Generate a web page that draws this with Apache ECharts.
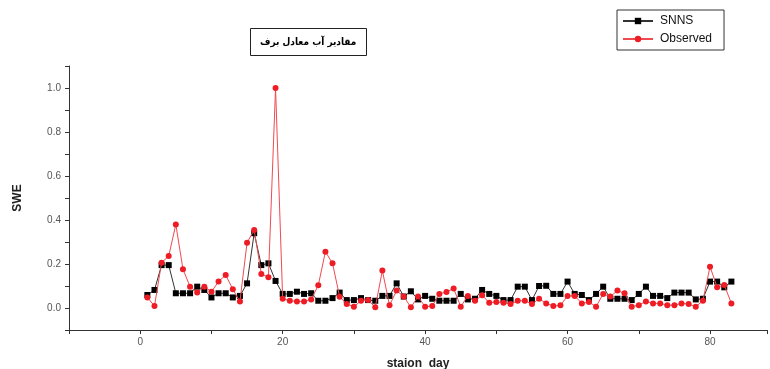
<!DOCTYPE html>
<html>
<head>
<meta charset="utf-8">
<script src="https://cdn.jsdelivr.net/npm/echarts@6/dist/echarts.min.js"></script>
<style>
  html, body { margin: 0; padding: 0; background: #fff; }
  #main { width: 770px; height: 369px; }
</style>
</head>
<body>
<div id="main"></div>
<script>
// station day 1..83
const days = Array.from({length: 83}, (_, i) => i + 1);

const snns = [
  0.059, 0.082, 0.195, 0.195, 0.067, 0.067, 0.067, 0.097, 0.082, 0.048,
  0.067, 0.067, 0.048, 0.055, 0.112, 0.340, 0.195, 0.203, 0.123, 0.064,
  0.064, 0.074, 0.064, 0.067, 0.033, 0.033, 0.045, 0.070, 0.036, 0.036,
  0.045, 0.036, 0.033, 0.055, 0.055, 0.112, 0.052, 0.076, 0.039, 0.055,
  0.042, 0.033, 0.033, 0.033, 0.064, 0.039, 0.042, 0.082, 0.064, 0.055,
  0.036, 0.036, 0.097, 0.097, 0.036, 0.100, 0.101, 0.064, 0.064, 0.120,
  0.064, 0.059, 0.036, 0.064, 0.097, 0.042, 0.042, 0.042, 0.036, 0.064,
  0.097, 0.055, 0.055, 0.045, 0.070, 0.070, 0.070, 0.039, 0.042, 0.120,
  0.120, 0.094, 0.120
];

const observed = [
  0.048, 0.009, 0.206, 0.236, 0.380, 0.176, 0.097, 0.070, 0.097, 0.074,
  0.120, 0.150, 0.085, 0.030, 0.297, 0.355, 0.155, 0.140, 1.000, 0.042,
  0.033, 0.030, 0.030, 0.039, 0.103, 0.256, 0.203, 0.051, 0.018, 0.006,
  0.033, 0.036, 0.003, 0.170, 0.012, 0.079, 0.052, 0.003, 0.052, 0.006,
  0.009, 0.064, 0.073, 0.089, 0.006, 0.055, 0.033, 0.058, 0.024, 0.027,
  0.024, 0.018, 0.033, 0.033, 0.018, 0.042, 0.021, 0.009, 0.012, 0.055,
  0.055, 0.021, 0.027, 0.006, 0.064, 0.052, 0.079, 0.067, 0.006, 0.013,
  0.030, 0.021, 0.021, 0.013, 0.013, 0.021, 0.018, 0.006, 0.033, 0.188,
  0.094, 0.105, 0.021
];

const xLabels = [0, 20, 40, 60, 80];
const yLabels = [0.0, 0.2, 0.4, 0.6, 0.8, 1.0];

const pair = (ys) => days.map((d, i) => [d, ys[i]]);

const chart = echarts.init(document.getElementById('main'));
const option = {
  backgroundColor: '#fff',
  animation: false,
  title: {
    text: 'مقادیر آب معادل برف',
    left: 250,
    top: 28,
    padding: [9, 10],
    borderColor: '#222',
    borderWidth: 1,
    textStyle: { fontSize: 10, fontWeight: 'bold', color: '#000', fontFamily: 'DejaVu Sans Condensed, DejaVu Sans' }
  },
  legend: {
    orient: 'vertical',
    left: 617,
    top: 10,
    padding: [5, 12, 5, 5],
    itemGap: 6,
    itemWidth: 30,
    itemHeight: 8,
    borderColor: '#333',
    borderWidth: 1,
    textStyle: { fontSize: 12, color: '#111', fontFamily: 'Liberation Sans', padding: [0, 0, 0, 2] },
    data: ['SNNS', 'Observed']
  },
  grid: { left: 69, right: 3, top: 66, bottom: 39, outerBoundsMode: 'none', containLabel: false },
  xAxis: {
    type: 'value',
    min: -10,
    max: 88,
    interval: 10,
    name: 'staion  day',
    nameLocation: 'middle',
    nameGap: 28,
    nameTextStyle: { fontSize: 12, fontWeight: 'bold', color: '#222', fontFamily: 'Liberation Sans' },
    axisLine: { onZero: false, lineStyle: { color: '#333', width: 1 } },
    axisTick: { length: 4, lineStyle: { color: '#333' } },
    splitLine: { show: false },
    axisLabel: {
      fontSize: 10, color: '#555', margin: 7, fontFamily: 'Liberation Sans',
      formatter: v => xLabels.indexOf(v) >= 0 ? String(v) : ''
    }
  },
  yAxis: {
    type: 'value',
    min: -0.1,
    max: 1.1,
    interval: 0.1,
    name: 'SWE',
    nameLocation: 'middle',
    nameGap: 45,
    nameRotate: 90,
    nameTextStyle: { fontSize: 12, fontWeight: 'bold', color: '#222', fontFamily: 'Liberation Sans' },
    axisLine: { show: true, onZero: false, lineStyle: { color: '#333', width: 1 } },
    axisTick: { show: true, length: 4, lineStyle: { color: '#333' } },
    splitLine: { show: false },
    axisLabel: {
      fontSize: 10, color: '#555', margin: 8, fontFamily: 'Liberation Sans',
      formatter: v => {
        const r = Math.round(v * 10) / 10;
        return yLabels.some(t => Math.abs(t - r) < 1e-6) && Math.abs(v - r) < 1e-6 ? r.toFixed(1) : '';
      }
    }
  },
  series: [
    {
      name: 'SNNS',
      type: 'line',
      data: pair(snns),
      symbol: 'rect',
      symbolSize: 6,
      itemStyle: { color: '#000' },
      lineStyle: { color: '#333', width: 1 },
      z: 2
    },
    {
      name: 'Observed',
      type: 'line',
      data: pair(observed),
      symbol: 'circle',
      symbolSize: 6,
      itemStyle: { color: '#ee1c25' },
      lineStyle: { color: '#f04a50', width: 1 },
      z: 3
    }
  ]
};
option && chart.setOption(option);
</script>
</body>
</html>
